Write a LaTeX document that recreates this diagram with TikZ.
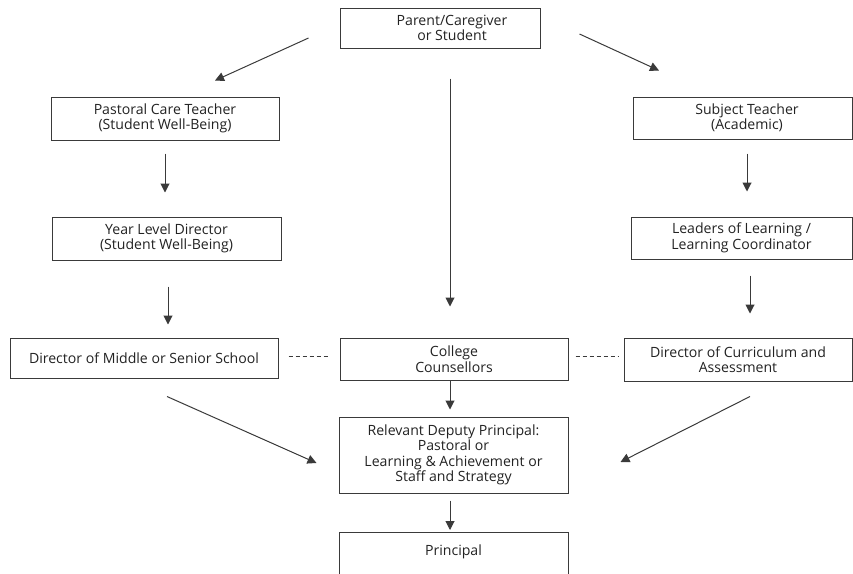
\documentclass[tikz,border=0pt]{standalone}
\usepackage{fontspec}
\setmainfont{Open Sans}
\usetikzlibrary{arrows.meta,calc}
\definecolor{linec}{HTML}{3A3A3A}
\definecolor{txtc}{HTML}{222222}
\begin{document}
\begin{tikzpicture}[x=1pt,y=-1pt,
  box/.style={draw=linec, line width=1pt, rectangle, align=center, inner sep=0pt,
    font=\fontsize{14.1}{15.5}\selectfont, text=txtc},
  arr/.style={draw=linec, line width=1pt, -{Triangle[length=9pt,width=9pt]}},
  dashline/.style={draw=linec, line width=1pt, dash pattern=on 4pt off 3pt}]
\useasboundingbox (0,0) rectangle (853,573);
\node[box, minimum width=200pt, minimum height=40pt] (parent) at (440,28) {\hspace*{24pt}Parent/Caregiver\\\hspace*{24pt}or Student};
\node[box, minimum width=228pt, minimum height=43pt] (pastoral) at (165,118.5) {Pastoral Care Teacher\\(Student Well-Being)};
\node[box, minimum width=229pt, minimum height=43pt] (year) at (166.5,238.5) {Year Level Director\\(Student Well-Being)};
\node[box, minimum width=268pt, minimum height=40pt] (dirms) at (144,358) {Director of Middle or Senior School};
\node[box, minimum width=228pt, minimum height=42pt] (college) at (454,359) {College\\Counsellors};
\node[box, minimum width=219pt, minimum height=42pt] (subject) at (742.5,118) {\hspace*{9pt}Subject Teacher\\\hspace*{9pt}(Academic)};
\node[box, minimum width=221pt, minimum height=42pt] (leaders) at (741.5,238) {Leaders of Learning /\\Learning Coordinator};
\node[box, minimum width=228pt, minimum height=43pt] (dirca) at (738,359.5) {Director of Curriculum and\\Assessment};
\node[box, minimum width=229pt, minimum height=76pt] (deputy) at (453.5,455) {Relevant Deputy Principal:\\Pastoral or\\Learning \& Achievement or\\Staff and Strategy};
\node[box, minimum width=229pt, anchor=north, text height=23pt, text depth=40pt] (principal) at (453.5,532) {Principal};

% vertical arrows
\draw[arr, shorten <=13pt, shorten >=24pt] (pastoral.south) -- (pastoral.south |- year.north);
\draw[arr, shorten <=26pt, shorten >=13pt] ([xshift=1.5pt]year.south) -- ([xshift=1.5pt]year.south |- dirms.north);
\draw[arr, shorten <=14pt, shorten >=25pt] ([xshift=4.5pt]subject.south) -- ([xshift=4.5pt]subject.south |- leaders.north);
\draw[arr, shorten <=16pt, shorten >=24pt] ([xshift=8.5pt]leaders.south) -- ([xshift=8.5pt]leaders.south |- dirca.north);
\draw[arr, shorten <=30pt, shorten >=31pt] ([xshift=10pt]parent.south) -- ([xshift=10pt]parent.south |- college.north);
\draw[arr, shorten >=7pt] ([xshift=-4pt]college.south) -- ([xshift=-4pt]college.south |- deputy.north);
\draw[arr, shorten <=7pt, shorten >=2pt] ([xshift=-3.5pt]deputy.south) -- ([xshift=-3.5pt]deputy.south |- principal.north);

% diagonal arrows
\draw[arr] ($(parent.west)+(-31,10)$) -- ($(pastoral.north)+(50,-16)$);
\draw[arr] ($(parent.east)+(39,6)$) -- ($(subject.north)+(-83.5,-26)$);
\draw[arr] ($(dirms.south)+(23,18)$) -- ($(deputy.west)+(-22,8)$);
\draw[arr] ($(dirca.south)+(12,15)$) -- ($(deputy.east)+(52,7)$);

% dashed links
\draw[dashline] ($(dirms.east)+(10,-2)$) -- ($(college.west)+(-10,-3)$);
\draw[dashline] ($(college.east)+(7,-3)$) -- ($(dirca.west)+(-5,-3.5)$);
\end{tikzpicture}
\end{document}
